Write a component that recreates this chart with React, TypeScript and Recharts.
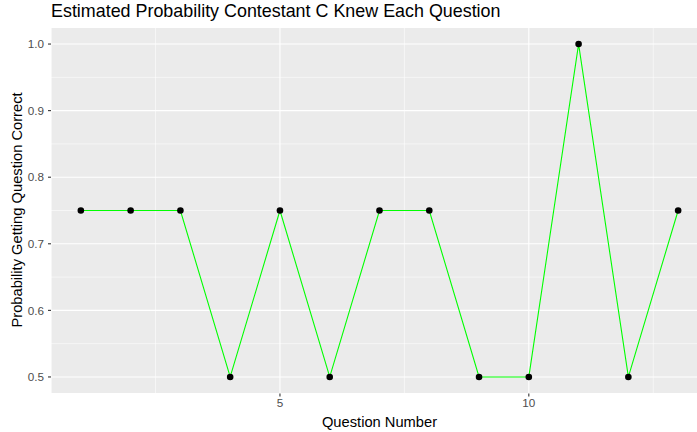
import React from "react";
import {
  LineChart,
  Line,
  XAxis,
  YAxis,
  CartesianGrid,
  ReferenceLine,
} from "recharts";

const questions = [1, 2, 3, 4, 5, 6, 7, 8, 9, 10, 11, 12, 13];
const probabilities = [0.75, 0.75, 0.75, 0.5, 0.75, 0.5, 0.75, 0.75, 0.5, 0.5, 1.0, 0.5, 0.75];
const xTicks = [5, 10];
const xMinor = [2.5, 7.5, 12.5];
const yTicks = [0.5, 0.6, 0.7, 0.8, 0.9, 1.0];
const yMinor = [0.55, 0.65, 0.75, 0.85, 0.95];

const data = questions.map((q, i) => ({ q, p: probabilities[i] }));

const font = '"Liberation Sans", Arial, Helvetica, sans-serif';
const tickStyle = { fill: "#4D4D4D", stroke: "none", fontSize: 11.7, fontFamily: font };

export default function App() {
  return (
    <div
      style={{
        position: "fixed",
        top: 0,
        left: 0,
        width: 697,
        height: 432,
        overflow: "hidden",
        background: "#fff",
        fontFamily: font,
      }}
    >
      <div
        style={{
          position: "absolute",
          left: 51,
          top: 1,
          fontSize: 17.9,
          color: "#000",
          whiteSpace: "nowrap",
        }}
      >
        Estimated Probability Contestant C Knew Each Question
      </div>
      <div
        style={{
          position: "absolute",
          left: 16.5,
          top: 210,
          transform: "translate(-50%, -50%) rotate(-90deg)",
          fontSize: 14.7,
          color: "#000",
          whiteSpace: "nowrap",
        }}
      >
        Probability Getting Question Correct
      </div>
      <div
        style={{
          position: "absolute",
          left: 379.5,
          top: 422,
          transform: "translate(-50%, -50%)",
          fontSize: 14.7,
          color: "#000",
          whiteSpace: "nowrap",
        }}
      >
        Question Number
      </div>
      <div style={{ position: "absolute", left: 0, top: 0 }}>
        <LineChart
          width={720}
          height={432}
          data={data}
          margin={{ top: 27.4, right: 12, bottom: 0, left: 0 }}
        >
          <CartesianGrid fill="#EBEBEB" stroke="#FFFFFF" strokeWidth={1.1} />
          {xMinor.map((v) => (
            <ReferenceLine key={"x" + v} x={v} stroke="#FFFFFF" strokeWidth={0.55} />
          ))}
          {yMinor.map((v) => (
            <ReferenceLine key={"y" + v} y={v} stroke="#FFFFFF" strokeWidth={0.55} />
          ))}
          <XAxis
            dataKey="q"
            type="number"
            domain={[0.4, 13.6]}
            ticks={xTicks}
            allowDataOverflow
            axisLine={false}
            stroke="#333333"
            tickLine={{ stroke: "#333333", strokeWidth: 1.1 }}
            tickSize={3}
            tickMargin={2}
            tick={tickStyle}
            height={38.4}
          />
          <YAxis
            type="number"
            domain={[0.475, 1.025]}
            ticks={yTicks}
            allowDataOverflow
            axisLine={false}
            stroke="#333333"
            tickLine={{ stroke: "#333333", strokeWidth: 1.1 }}
            tickSize={3}
            tickMargin={4}
            tick={tickStyle}
            tickFormatter={(v: number) => v.toFixed(1)}
            width={51}
          />
          <Line
            dataKey="p"
            type="linear"
            stroke="#00FF00"
            strokeWidth={1.1}
            dot={{ r: 3.3, fill: "#000000", stroke: "none" }}
            activeDot={false}
            isAnimationActive={false}
          />
        </LineChart>
      </div>
    </div>
  );
}
